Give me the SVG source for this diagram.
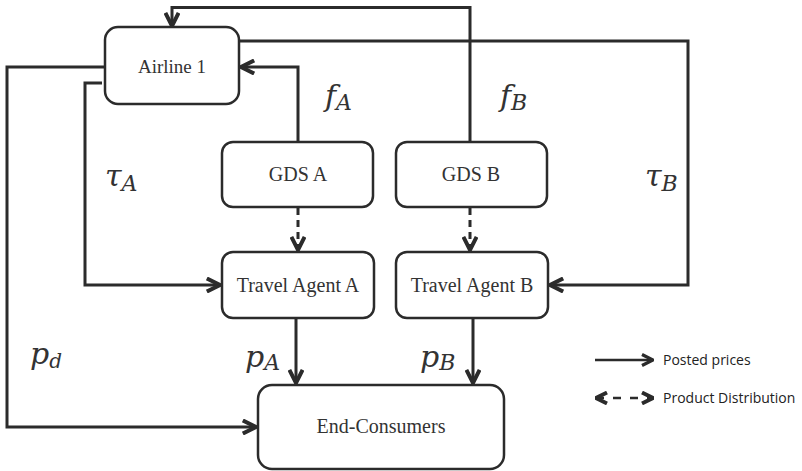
<svg xmlns="http://www.w3.org/2000/svg" width="802" height="471" viewBox="0 0 802 471">
<style>
.box{fill:#fff;stroke:#2b2b2b;stroke-width:2.5}
.ln{fill:none;stroke:#2b2b2b;stroke-width:3}
.dash{fill:none;stroke:#2b2b2b;stroke-width:3;stroke-dasharray:7,5}
.lbl{font-family:"Liberation Serif",serif;font-size:19px;fill:#333;text-anchor:middle}
.math{font-family:"DejaVu Serif","Liberation Serif",serif;font-style:italic;fill:#333}
.leg{font-family:"Open Sans","Liberation Sans",sans-serif;font-size:14px;fill:#222}
</style>
<defs>
<marker id="ah" viewBox="0 0 10 10" refX="9" refY="5" markerWidth="5.5" markerHeight="5.5" orient="auto" markerUnits="strokeWidth">
<path d="M1,1 L9,5 L1,9" fill="none" stroke="#2b2b2b" stroke-width="2.4"/>
</marker>
<marker id="ahs" viewBox="0 0 10 10" refX="9" refY="5" markerWidth="5.5" markerHeight="5.5" orient="auto-start-reverse" markerUnits="strokeWidth">
<path d="M1,1 L9,5 L1,9" fill="none" stroke="#2b2b2b" stroke-width="2.8"/>
</marker>
</defs>
<g id="connectors">
<path class="ln" d="M470,142 V7.5 H172 V26" marker-end="url(#ah)"/>
<path class="ln" d="M239,41 H688 V285 H550" marker-end="url(#ah)"/>
<path class="ln" d="M298,142 V67 H241" marker-end="url(#ah)"/>
<path class="ln" d="M102,83 H85 V285 H220" marker-end="url(#ah)"/>
<path class="ln" d="M105,67 H7 V427 H256" marker-end="url(#ah)"/>
<path class="dash" d="M298,208 V250" marker-end="url(#ah)"/>
<path class="dash" d="M470,208 V250" marker-end="url(#ah)"/>
<path class="ln" d="M296,318 V383" marker-end="url(#ah)"/>
<path class="ln" d="M473,318 V383" marker-end="url(#ah)"/>
</g>
<g id="airline1"><rect class="box" x="105" y="27" width="134" height="77" rx="13"/><text class="lbl" x="172" y="73">Airline 1</text></g>
<g id="gdsA"><rect class="box" x="222" y="142" width="151" height="65" rx="11"/><text class="lbl" x="298" y="181" style="font-size:20px">GDS A</text></g>
<g id="gdsB"><rect class="box" x="396" y="142" width="151" height="65" rx="11"/><text class="lbl" x="471" y="181" style="font-size:20px">GDS B</text></g>
<g id="taA"><rect class="box" x="222" y="252" width="152" height="66" rx="11"/><text class="lbl" x="298" y="292" style="font-size:20px">Travel Agent A</text></g>
<g id="taB"><rect class="box" x="396" y="252" width="152" height="66" rx="11"/><text class="lbl" x="472" y="292" style="font-size:20px">Travel Agent B</text></g>
<g id="consumers"><rect class="box" x="258" y="385" width="246" height="84" rx="14"/><text class="lbl" x="381" y="433" style="font-size:20px">End-Consumers</text></g>
<g id="labels">
<text class="math" x="325" y="106" font-size="30">f<tspan font-size="22" dy="4">A</tspan></text>
<text class="math" x="500" y="106" font-size="30">f<tspan font-size="22" dy="4">B</tspan></text>
<text class="math" x="105" y="186" font-size="30">τ<tspan font-size="22" dy="5">A</tspan></text>
<text class="math" x="645" y="186" font-size="30">τ<tspan font-size="22" dy="5">B</tspan></text>
<text class="math" x="30" y="364" font-size="30">p<tspan font-size="20" dy="4">d</tspan></text>
<text class="math" x="245" y="367" font-size="30">p<tspan font-size="22" dy="3">A</tspan></text>
<text class="math" x="420" y="367" font-size="30">p<tspan font-size="22" dy="3">B</tspan></text>
</g>
<g id="legend">
<path class="ln" d="M595,360 H653" marker-end="url(#ah)" style="stroke-width:2.5"/>
<text class="leg" x="663" y="365">Posted prices</text>
<path class="dash" d="M596,398 H653" marker-start="url(#ahs)" marker-end="url(#ahs)" style="stroke-width:2.5;stroke-dasharray:8,9"/>
<text class="leg" x="663" y="403">Product Distribution</text>
</g>
</svg>
